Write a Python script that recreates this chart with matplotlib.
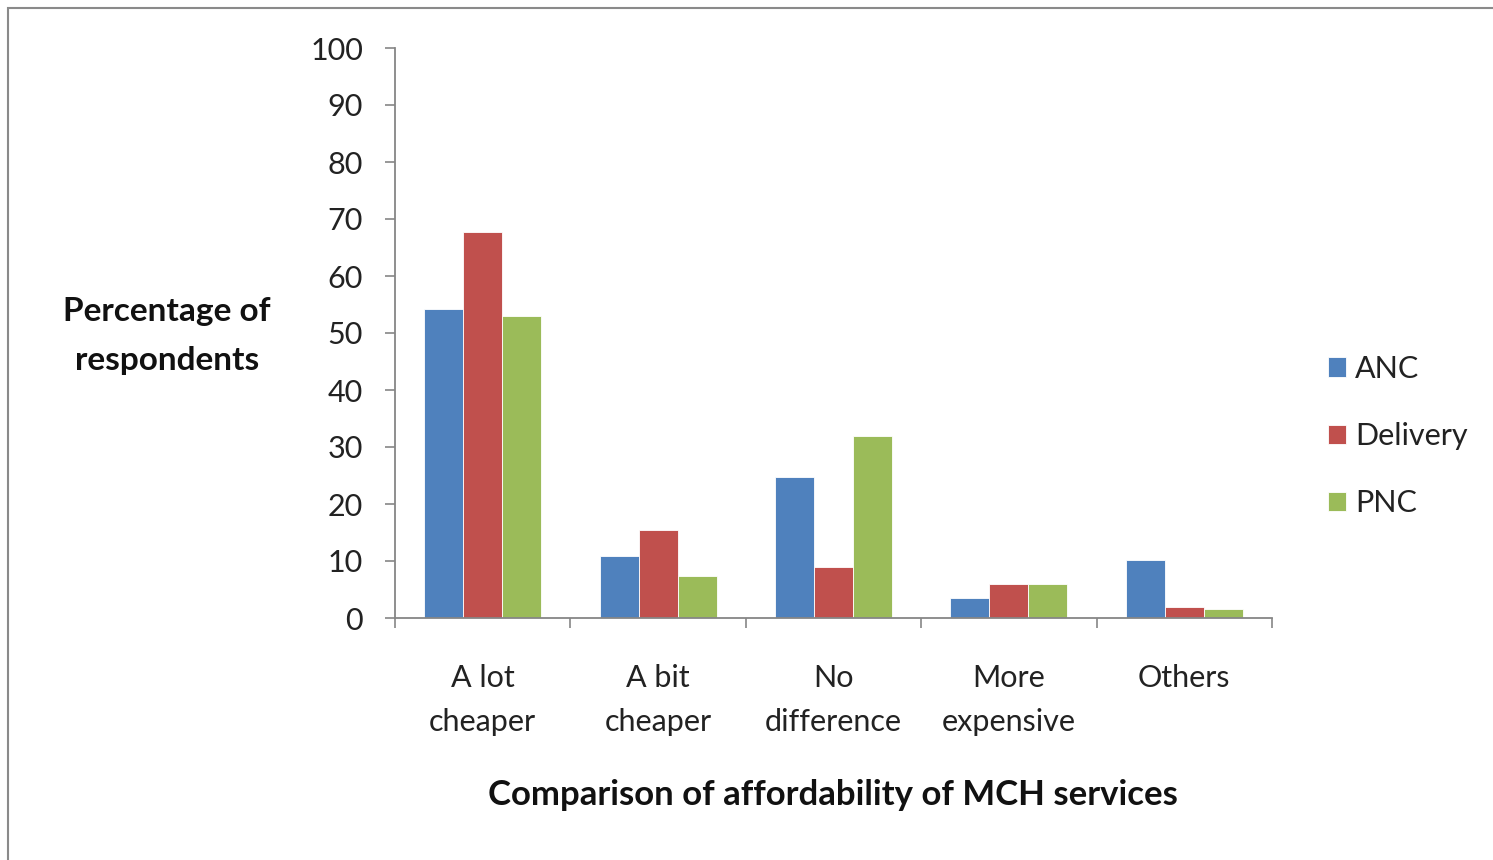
import matplotlib
matplotlib.use("Agg")
import matplotlib.pyplot as plt
import numpy as np
from matplotlib.patches import Rectangle

plt.rcParams['font.family'] = ['Lato', 'DejaVu Sans']

categories = ["A lot\ncheaper", "A bit\ncheaper", "No\ndifference", "More\nexpensive", "Others"]
series_names = ["ANC", "Delivery", "PNC"]
anc = [54.2, 10.9, 24.8, 3.5, 10.2]
delivery = [67.8, 15.5, 9.0, 6.0, 1.9]
pnc = [52.9, 7.4, 31.9, 6.0, 1.6]
colors = ["#4F81BD", "#C0504D", "#9BBB59"]
yticks = list(range(0, 101, 10))

fig = plt.figure(figsize=(14.93, 8.60), dpi=100)
fig.patches.append(Rectangle((8/1493, -0.1), 1.2, 1 - 8/860 + 0.1, transform=fig.transFigure,
                             fill=False, edgecolor="#8a8a8a", linewidth=1.5))
ax = fig.add_axes([395/1493, 1 - 618/860, (1272 - 395)/1493, (618 - 48)/860])

x = np.arange(len(categories))
w = 0.222
for i, (vals, name) in enumerate(zip([anc, delivery, pnc], series_names)):
    ax.bar(x + (i - 1) * w, vals, width=w, color=colors[i], label=name,
           edgecolor="white", linewidth=0.6)

ax.set_xlim(-0.5, len(categories) - 0.5)
ax.set_ylim(0, 100)
ax.set_yticks(yticks)
ax.set_xticks(x)
ax.set_xticklabels(categories, fontsize=22, color="#222222", linespacing=1.7)
ax.set_xticks(np.arange(-0.5, len(categories)), minor=True)
ax.tick_params(axis='x', which='major', length=0, pad=33)
ax.tick_params(axis='x', which='minor', length=7, color="#868686", width=1.2)
ax.tick_params(axis='y', length=7, color="#868686", width=1.2, labelsize=22, pad=16,
               labelcolor="#222222")
for s in ["top", "right"]:
    ax.spines[s].set_visible(False)
for s in ["left", "bottom"]:
    ax.spines[s].set_color("#868686")
    ax.spines[s].set_linewidth(1.3)

fig.text(167/1493, 1 - 336/860, "Percentage of\nrespondents", ha="center", va="center",
         fontsize=24, fontweight="bold", linespacing=1.85, color="#111111")
fig.text(833/1493, 1 - 795/860, "Comparison of affordability of MCH services", ha="center",
         va="center", fontsize=25, fontweight="bold", color="#111111")

fig.legend(loc="center left", bbox_to_anchor=(1300/1493, 1 - 436/860), frameon=False,
           fontsize=22, handlelength=0.6, handleheight=0.6, handletextpad=0.3,
           labelspacing=1.28, labelcolor="#222222")

fig.savefig("out.png", dpi=100)
